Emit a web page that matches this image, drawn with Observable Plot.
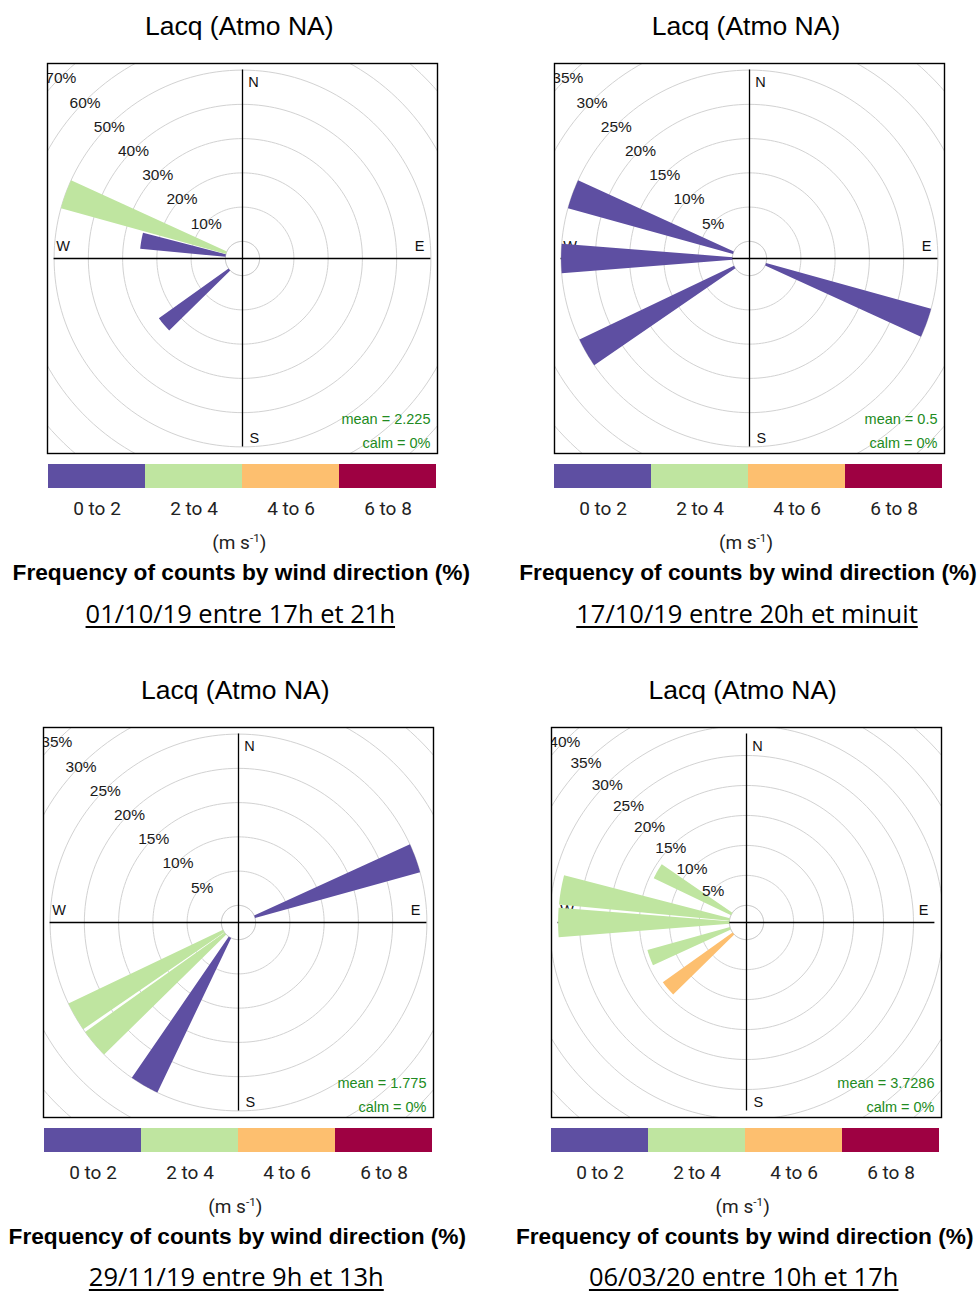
<!DOCTYPE html>
<html><head><meta charset="utf-8">
<script src="https://cdn.jsdelivr.net/npm/d3@7"></script>
<script src="https://cdn.jsdelivr.net/npm/@observablehq/plot@0.6"></script>
<style>
body{margin:0;background:#fff;}
#root{position:relative;width:980px;height:1292px;overflow:hidden;background:#fff;}
.t{position:absolute;width:520px;text-align:center;white-space:nowrap;color:#000;line-height:1;}
.title{font-family:"Liberation Sans",Arial,sans-serif;font-size:26.5px;}
.unit{font-family:Roboto,sans-serif;font-size:19px;color:#222;}
.unit span{font-size:0.62em;vertical-align:0.62em;}
.head{font-family:"Liberation Sans",Arial,sans-serif;font-weight:bold;font-size:22.7px;}
.date{font-family:"Open Sans",sans-serif;font-size:25.5px;text-decoration:underline;text-decoration-thickness:1.5px;text-underline-offset:3px;}
.abs{position:absolute;}
</style></head><body><div id="root"></div>
<script>
// ---------- data ----------
const plotTitle = "Lacq (Atmo NA)";
const speedBins = ["0 to 2", "2 to 4", "4 to 6", "6 to 8"];
const binColors = ["#5e4fa2", "#bfe5a0", "#fdbf6f", "#9e0142"];
const unitLabel = "(m s<span>-1</span>)";
const headingText = "Frequency of counts by wind direction (%)";
const dateLabels = ["01/10/19 entre 17h et 21h", "17/10/19 entre 20h et minuit", "29/11/19 entre 9h et 13h", "06/03/20 entre 10h et 17h"];
const meanLabels = ["2.225", "0.5", "1.775", "3.7286"];
const calmLabels = ["0%", "0%", "0%", "0%"];

// panel 1
const p1Dir = [280, 290, 230];
const p1Bin = ["0 to 2", "2 to 4", "0 to 2"];
const p1Pct = [25, 50, 25];
const p1Rings = [10, 20, 30, 40, 50, 60, 70];
// panel 2
const p2Dir = [290, 270, 240, 110];
const p2Bin = ["0 to 2", "0 to 2", "0 to 2", "0 to 2"];
const p2Pct = [25, 25, 25, 25];
const p2Rings = [5, 10, 15, 20, 25, 30, 35];
// panel 3
const p3Dir = [70, 240, 230, 210];
const p3Bin = ["0 to 2", "2 to 4", "2 to 4", "0 to 2"];
const p3Pct = [25, 25, 25, 25];
const p3Rings = [5, 10, 15, 20, 25, 30, 35];
// panel 4
const p4Dir = [300, 280, 270, 250, 230];
const p4Bin = ["2 to 4", "2 to 4", "2 to 4", "2 to 4", "4 to 6"];
const p4Pct = [14.29, 28.57, 28.57, 14.29, 14.29];
const p4Rings = [5, 10, 15, 20, 25, 30, 35, 40];

const panels = [
  {dir: p1Dir, bin: p1Bin, pct: p1Pct, rings: p1Rings, mean: meanLabels[0], calm: calmLabels[0], date: dateLabels[0], left: 47.3, top: 63.3},
  {dir: p2Dir, bin: p2Bin, pct: p2Pct, rings: p2Rings, mean: meanLabels[1], calm: calmLabels[1], date: dateLabels[1], left: 554, top: 63.3},
  {dir: p3Dir, bin: p3Bin, pct: p3Pct, rings: p3Rings, mean: meanLabels[2], calm: calmLabels[2], date: dateLabels[2], left: 43.3, top: 726.8},
  {dir: p4Dir, bin: p4Bin, pct: p4Pct, rings: p4Rings, mean: meanLabels[3], calm: calmLabels[3], date: dateLabels[3], left: 550.7, top: 726.8}
];

// ---------- drawing ----------
const root = document.getElementById("root");
const rad = Math.PI / 180;
const SEG = 0.9, ANGLE = 10;

function addDiv(cls, html, left, top) {
  const d = document.createElement("div");
  d.className = "t " + cls;
  d.innerHTML = html;
  d.style.left = left + "px";
  d.style.top = top + "px";
  root.appendChild(d);
}

function circlePts(r, key) {
  const pts = [];
  for (let a = 0; a <= 360; a += 2) pts.push({x: r * Math.sin(a * rad), y: r * Math.cos(a * rad), k: key});
  return pts;
}

panels.forEach((p, pi) => {
  const totals = d3.rollup(p.dir.map((d, i) => ({d, v: p.pct[i]})), v => d3.sum(v, e => e.v), e => e.d);
  const maxFreq = d3.max(totals.values());
  const off = maxFreq * 0.1;
  const L = maxFreq + off;
  const B = L * 1.035;

  const wedgePts = [];
  const dirs = Array.from(new Set(p.dir));
  dirs.forEach(d => {
    let cum = 0;
    speedBins.forEach(b => {
      const v = d3.sum(p.dir.map((dd, i) => (dd === d && p.bin[i] === b) ? p.pct[i] : 0));
      if (v <= 0) return;
      const r1 = off + cum, r2 = off + cum + v;
      cum += v;
      const id = d + "-" + b;
      const n = 16;
      const a0 = d - SEG * ANGLE / 2, a1 = d + SEG * ANGLE / 2;
      for (let j = 0; j <= n; j++) { const a = (a0 + (a1 - a0) * j / n) * rad; wedgePts.push({x: r2 * Math.sin(a), y: r2 * Math.cos(a), id, bin: b}); }
      for (let j = n; j >= 0; j--) { const a = (a0 + (a1 - a0) * j / n) * rad; wedgePts.push({x: r1 * Math.sin(a), y: r1 * Math.cos(a), id, bin: b}); }
    });
  });

  const ringPts = p.rings.flatMap(r => circlePts(r + off, r));
  const calmPts = circlePts(off, "calm");
  const ringLabels = p.rings.map(r => ({x: -(r + off) * Math.SQRT1_2, y: (r + off) * Math.SQRT1_2, t: r + "%"}));
  const compass = [
    {x: 0.058 * L, y: 0.937 * L, t: "N"},
    {x: 0.94 * L, y: 0.063 * L, t: "E"},
    {x: 0.063 * L, y: -0.952 * L, t: "S"},
    {x: -0.952 * L, y: 0.063 * L, t: "W"}
  ];

  const chart = Plot.plot({
    width: 392, height: 392, margin: 1,
    x: {domain: [-B, B], axis: null},
    y: {domain: [-B, B], axis: null},
    color: {domain: speedBins, range: binColors},
    style: {fontFamily: "'Liberation Sans', Arial, sans-serif", fontSize: "14.5px", background: "transparent", overflow: "visible"},
    marks: [
      Plot.line(ringPts, {x: "x", y: "y", z: "k", stroke: "#d2d2d2", strokeWidth: 1, clip: true}),
      Plot.line(calmPts, {x: "x", y: "y", z: "k", stroke: "#bdbdbd", strokeWidth: 1, clip: true}),
      Plot.ruleX([0], {y1: -L, y2: L, stroke: "#000", strokeWidth: 1.3}),
      Plot.ruleY([0], {x1: -L, x2: L, stroke: "#000", strokeWidth: 1.3}),
      Plot.text(compass, {x: "x", y: "y", text: "t", fill: "#111"}),
      Plot.line(wedgePts, {x: "x", y: "y", z: "id", fill: "bin", stroke: "none", strokeWidth: 0, clip: true}),
      Plot.text(ringLabels, {x: "x", y: "y", text: "t", fill: "#1a1a1a", fontSize: 15.5, dy: 1.5, clip: true}),
      Plot.text(["mean = " + p.mean], {frameAnchor: "bottom-right", lineAnchor: "middle", textAnchor: "end", dx: -7, dy: -34, fill: "forestgreen"}),
      Plot.text(["calm = " + p.calm], {frameAnchor: "bottom-right", lineAnchor: "middle", textAnchor: "end", dx: -7, dy: -10, fill: "forestgreen"}),
      Plot.frame({stroke: "#000", strokeWidth: 1.4})
    ]
  });
  chart.classList.add("abs");
  chart.style.left = (p.left - 1) + "px";
  chart.style.top = (p.top - 1) + "px";
  root.appendChild(chart);

  const legend = Plot.plot({
    width: 389, height: 64, marginTop: 0, marginBottom: 40, marginLeft: 0, marginRight: 0,
    x: {domain: speedBins, padding: 0, tickSize: 0, tickPadding: 13, label: null},
    color: {domain: speedBins, range: binColors},
    style: {fontFamily: "Roboto, sans-serif", fontSize: "19px", color: "#222", background: "transparent", overflow: "visible"},
    marks: [Plot.cell(speedBins, {x: d => d, fill: d => d})]
  });
  legend.classList.add("abs");
  legend.style.left = (p.left - 0.6) + "px";
  legend.style.top = (p.top + 400.8) + "px";
  root.appendChild(legend);

  const cx = p.left + 193 - 260;
  addDiv("title", plotTitle, cx - 1, p.top - 50.3);
  addDiv("unit", unitLabel, cx - 1, p.top + 470);
  addDiv("head", headingText, cx + 1, p.top + 498.1);
  addDiv("date", p.date, cx, p.top + 537.2);
});
</script></body></html>
